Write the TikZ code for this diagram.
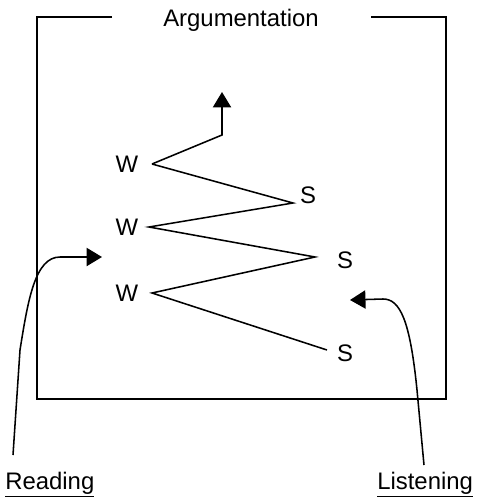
\documentclass[tikz,border=0pt]{standalone}
\usepackage{fontspec}
\setmainfont{Liberation Sans}
\usetikzlibrary{arrows.meta}

\begin{document}
\begin{tikzpicture}[x=0.025cm, y=-0.025cm,
  lbl/.style={font=\fontsize{17}{20}\selectfont, inner sep=0pt},
  frame/.style={line width=1.6pt},
  zig/.style={line width=1.1pt},
  tip/.style={-{Triangle[length=11pt, width=13pt]}}]
\useasboundingbox (0,0) rectangle (479,499);
% Frame with the title in its top edge
\node[lbl, anchor=base] (title) at (241,27) {Argumentation};
\draw[frame] (112,17) -- (37,17) -- (37,399) -- (446,399) -- (446,17) -- (371,17);
% Zigzag: W on the left, S on the right
\node[lbl] (w1) at (127,164) {W};
\node[lbl] (w2) at (127,227) {W};
\node[lbl] (w3) at (127,293) {W};
\node[lbl] (s1) at (308,195) {S};
\node[lbl] (s2) at (345,260) {S};
\node[lbl] (s3) at (345,353) {S};
\coordinate (v1) at (152,164);
\coordinate (v2) at (149,227);
\coordinate (v3) at (152,293);
\coordinate (u1) at (293,203);
\coordinate (u2) at (315,257);
\coordinate (u3) at (327,350);
\coordinate (bend) at (222,135);
\coordinate (top) at (222,92);
\draw[zig] (u3) -- (v3) -- (u2) -- (v2) -- (u1) -- (v1);
\draw[zig, tip] (v1) -- (bend) -- (top);
% Reading comes in from the left
\node[lbl, anchor=base west] (rd) at (5,489) {\underline{Reading}};
\coordinate (rdfoot) at (13,455);
\coordinate (rdtip) at (102,257);
\draw[zig, tip] (rdfoot) -- (20,350) .. controls (28,300) and (35,257) .. (60,257) -- (rdtip);
% Listening comes in from the right
\node[lbl, anchor=base west] (ls) at (377,489) {\underline{Listening}};
\coordinate (lsfoot) at (424,465);
\coordinate (lstip) at (350,300);
\draw[zig, tip] (lsfoot) -- (417,390) .. controls (410,320) and (400,299) .. (383,299) -- (lstip);
\end{tikzpicture}
\end{document}
